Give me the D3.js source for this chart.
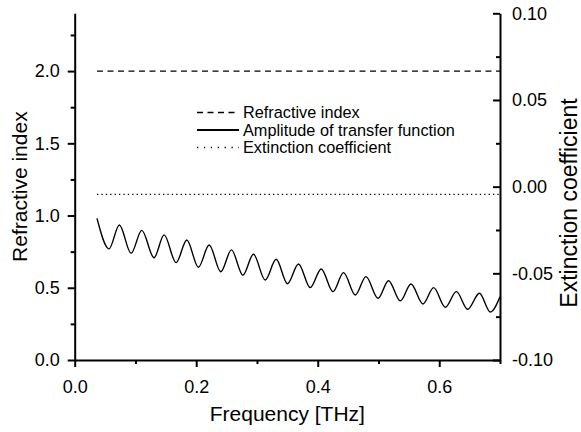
<!DOCTYPE html>
<html><head><meta charset="utf-8">
<script src="https://cdn.jsdelivr.net/npm/d3@7"></script>
<style>
body{margin:0;background:#fff}
svg{display:block}
text{font-family:"Liberation Sans",Arial,sans-serif;fill:#000}
</style>
</head><body>
<svg id="c" width="581" height="432"></svg>
<script>
// ---- data ----
const freqTicks = [0, 0.2, 0.4, 0.6];
const freqMinor = [0.1, 0.3, 0.5, 0.7];
const leftTicks = [0, 0.5, 1.0, 1.5, 2.0];
const leftMinor = [0.25, 0.75, 1.25, 1.75, 2.25];
const rightTicks = [-0.10, -0.05, 0, 0.05, 0.10];
const rightMinor = [-0.075, -0.025, 0.025, 0.075];

// Amplitude of transfer function (read at extrema of the oscillation)
const ampFreq = [0.0367, 0.0565, 0.0735, 0.0928, 0.1104, 0.1306, 0.1471, 0.1669, 0.1845, 0.2036,
  0.2213, 0.2405, 0.2580, 0.2768, 0.2942, 0.3135, 0.3316, 0.3502, 0.3684, 0.3876,
  0.4058, 0.4250, 0.4425, 0.4618, 0.4794, 0.4992, 0.5166, 0.5359, 0.5535, 0.5733,
  0.5908, 0.6100, 0.6282, 0.6468, 0.6661, 0.6842, 0.700];
const ampValue = [0.980, 0.769, 0.935, 0.739, 0.897, 0.708, 0.866, 0.674, 0.831, 0.642,
  0.796, 0.611, 0.762, 0.587, 0.732, 0.554, 0.697, 0.528, 0.665, 0.501,
  0.630, 0.473, 0.605, 0.450, 0.577, 0.427, 0.549, 0.409, 0.526, 0.388,
  0.501, 0.365, 0.473, 0.351, 0.462, 0.332, 0.438];

const refFreq = [0.0367, 0.700];
const refractiveIndex = [2.0, 2.0];
const extFreq = [0.0367, 0.700];
const extinctionCoeff = [-0.0045, -0.0045];

const legendLabels = ["Refractive index", "Amplitude of transfer function", "Extinction coefficient"];
const xTitle = "Frequency [THz]";
const yLeftTitle = "Refractive index";
const yRightTitle = "Extinction coefficient";

// ---- layout ----
const svg = d3.select("#c");
const L = 74.7, R = 500, T = 13.3, B = 360;
const x = d3.scaleLinear().domain([0, 0.7]).range([L, R]);
const yL = d3.scaleLinear().domain([0, 2.4]).range([B, T]);
const yR = d3.scaleLinear().domain([-0.1, 0.1]).range([B, T]);
const fmt = p => (d => d3.format(p)(d).replace("\u2212", "-"));

function styleAxis(g, fs) {
  g.selectAll("path.domain").attr("stroke", "#000").attr("stroke-width", 2);
  g.selectAll(".tick line").attr("stroke", "#000").attr("stroke-width", 2);
  g.selectAll("text").attr("font-size", fs).attr("font-family", '"Liberation Sans", Arial, sans-serif').attr("fill", "#000");
}

// bottom axis
const gxm = svg.append("g").attr("transform", `translate(0,${B})`)
  .call(d3.axisBottom(x).tickValues(freqMinor).tickSize(4).tickFormat(""));
gxm.select("path.domain").remove();
styleAxis(gxm, 18);
const gx = svg.append("g").attr("transform", `translate(0,${B})`)
  .call(d3.axisBottom(x).tickValues(freqTicks).tickSize(7).tickSizeOuter(0).tickPadding(13).tickFormat(fmt(".1f")));
styleAxis(gx, 18);

// left axis
const gym = svg.append("g").attr("transform", `translate(${L},0)`)
  .call(d3.axisLeft(yL).tickValues(leftMinor).tickSize(4).tickFormat(""));
gym.select("path.domain").remove();
styleAxis(gym, 18);
const gy = svg.append("g").attr("transform", `translate(${L},0)`)
  .call(d3.axisLeft(yL).tickValues(leftTicks).tickSize(7).tickSizeOuter(0).tickPadding(8).tickFormat(fmt(".1f")));
styleAxis(gy, 18);

// right axis (ticks inward)
const grm = svg.append("g").attr("transform", `translate(${R},0)`)
  .call(d3.axisRight(yR).tickValues(rightMinor).tickSize(-4).tickFormat(""));
grm.select("path.domain").remove();
styleAxis(grm, 18);
const gr = svg.append("g").attr("transform", `translate(${R},0)`)
  .call(d3.axisRight(yR).tickValues(rightTicks).tickSize(-7).tickSizeOuter(0).tickPadding(12).tickFormat(fmt(".2f")));
styleAxis(gr, 18);

// ---- series ----
const refData = refFreq.map((f, i) => [f, refractiveIndex[i]]);
svg.append("path").datum(refData)
  .attr("fill", "none").attr("stroke", "#000").attr("stroke-width", 1.3)
  .attr("stroke-dasharray", "6,4.5")
  .attr("d", d3.line().x(d => x(d[0])).y(d => yL(d[1])));

const extData = extFreq.map((f, i) => [f, extinctionCoeff[i]]);
svg.append("path").datum(extData)
  .attr("fill", "none").attr("stroke", "#000").attr("stroke-width", 1.3)
  .attr("stroke-dasharray", "1.3,3.1")
  .attr("d", d3.line().x(d => x(d[0])).y(d => yR(d[1])));

const ampData = ampFreq.map((f, i) => [f, ampValue[i]]);
svg.append("path").datum(ampData)
  .attr("fill", "none").attr("stroke", "#000").attr("stroke-width", 1.4)
  .attr("d", d3.line().x(d => x(d[0])).y(d => yL(d[1])).curve(d3.curveMonotoneX));

// ---- legend ----
const legX = 197, legY = [112.5, 130, 147.5];
const dashes = ["6,4.5", null, "1.3,5.6"];
legendLabels.forEach((lab, i) => {
  const ln = svg.append("line").attr("x1", legX).attr("x2", legX + 42)
    .attr("y1", legY[i]).attr("y2", legY[i])
    .attr("stroke", "#000").attr("stroke-width", i === 1 ? 2 : 1.3);
  if (dashes[i]) ln.attr("stroke-dasharray", dashes[i]);
  svg.append("text").attr("x", legX + 46).attr("y", legY[i]).attr("dy", "0.35em")
    .attr("font-size", 16.3).text(lab);
});

// ---- titles ----
svg.append("text").attr("x", (L + R) / 2).attr("y", 421).attr("text-anchor", "middle")
  .attr("font-size", 21).text(xTitle);
svg.append("text").attr("transform", `translate(27,${(T + B) / 2}) rotate(-90)`)
  .attr("text-anchor", "middle").attr("font-size", 21).text(yLeftTitle);
svg.append("text").attr("transform", `translate(577,203) rotate(-90)`)
  .attr("text-anchor", "middle").attr("font-size", 23).text(yRightTitle);
</script>
</body></html>
